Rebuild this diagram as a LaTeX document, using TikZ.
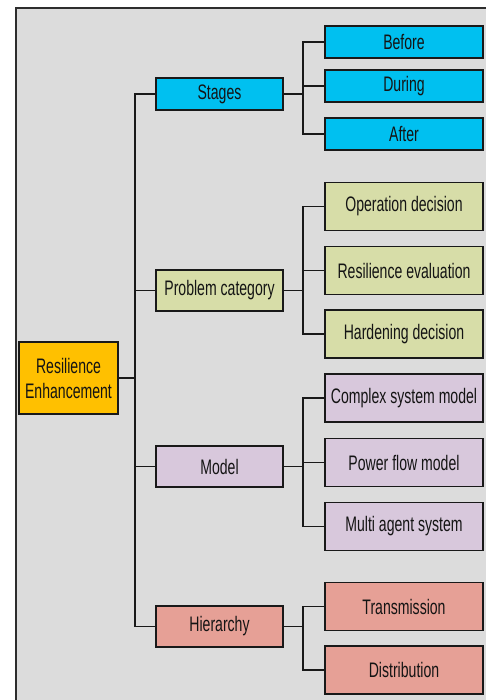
\documentclass[tikz,border=0pt]{standalone}
\usepackage{fontspec}
\setmainfont{Liberation Sans}[FakeStretch=0.67]
\definecolor{panel}{RGB}{220,220,220}
\definecolor{frameline}{RGB}{45,45,45}
\definecolor{inkline}{RGB}{25,25,25}
\definecolor{txt}{RGB}{20,20,20}
\definecolor{cyanbox}{RGB}{0,192,240}
\definecolor{olivebox}{RGB}{215,221,168}
\definecolor{lilacbox}{RGB}{216,200,220}
\definecolor{rosebox}{RGB}{230,160,150}
\definecolor{amberbox}{RGB}{255,192,0}
\begin{document}
\begin{tikzpicture}[x=1pt,y=-1pt,
  box/.style={draw=inkline,line width=1.3pt,inner sep=0pt,align=center,
    text=txt,font=\fontsize{21}{25}\selectfont},
  midbox/.style={box,minimum width=127pt,minimum height=41pt},
  leafbox/.style={box,minimum width=158pt,minimum height=48pt},
  wire/.style={draw=inkline,line width=1.5pt}]
\useasboundingbox (0,0) rectangle (486,700);
% panel behind the tree
\fill[panel] (16,8) rectangle (492,706);
\draw[frameline,line width=1.6pt] (16,706) -- (16,8) -- (492,8);

% root
\node[box,fill=amberbox,minimum width=99pt,minimum height=72pt] (root) at (68.5,378) {Resilience\\Enhancement};

% second level
\node[midbox,fill=cyanbox,minimum height=32pt] (stages) at (219.5,94) {Stages};
\node[midbox,fill=olivebox] (prob) at (219.5,290.5) {Problem category};
\node[midbox,fill=lilacbox] (model) at (219.5,466.5) {Model};
\node[midbox,fill=rosebox] (hier) at (219.5,626.5) {Hierarchy};

% leaves
\node[leafbox,fill=cyanbox,minimum height=32pt] (before) at (404,42) {Before};
\node[leafbox,fill=cyanbox,minimum height=32pt] (during) at (404,86) {During};
\node[leafbox,fill=cyanbox,minimum height=32pt] (after) at (404,134) {After};
\node[leafbox,fill=olivebox] (oper) at (404,206.5) {Operation decision};
\node[leafbox,fill=olivebox] (reval) at (404,270.5) {Resilience evaluation};
\node[leafbox,fill=olivebox] (hard) at (404,334) {Hardening decision};
\node[leafbox,fill=lilacbox] (csm) at (404,398) {Complex system model};
\node[leafbox,fill=lilacbox] (pfm) at (404,462.5) {Power flow model};
\node[leafbox,fill=lilacbox] (mas) at (404,526.5) {Multi agent system};
\node[leafbox,fill=rosebox] (trans) at (404,606.5) {Transmission};
\node[leafbox,fill=rosebox] (dist) at (404,670) {Distribution};

% trunk and forks
\coordinate (trunk) at (135,0);
\coordinate (forkA) at (303,0);

\draw[wire] (root.east) -- (root.east -| trunk);
\draw[wire] (stages.west) -| (hier.west -| trunk) -- (hier.west);
\draw[wire] (prob.west) -- (prob.west -| trunk);
\draw[wire] (model.west) -- (model.west -| trunk);

\draw[wire] (stages.east) -- (stages.east -| forkA);
\draw[wire] (before.west) -| (after.west -| forkA) -- (after.west);
\draw[wire] (during.west) -- (during.west -| forkA);

\draw[wire] (prob.east) -- (prob.east -| forkA);
\draw[wire] (oper.west) -| (hard.west -| forkA) -- (hard.west);
\draw[wire] (reval.west) -- (reval.west -| forkA);

\draw[wire] (model.east) -- (model.east -| forkA);
\draw[wire] (csm.west) -| (mas.west -| forkA) -- (mas.west);
\draw[wire] (pfm.west) -- (pfm.west -| forkA);

\draw[wire] (hier.east) -- (hier.east -| forkA);
\draw[wire] (trans.west) -| (dist.west -| forkA) -- (dist.west);
\end{tikzpicture}
\end{document}
